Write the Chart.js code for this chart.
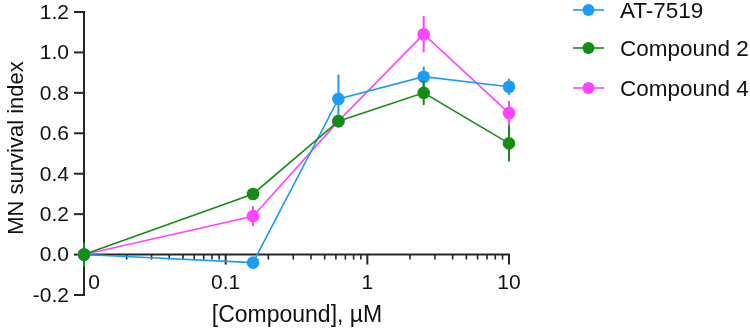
<!DOCTYPE html>
<html>
<head>
<meta charset="utf-8">
<script src="https://cdn.jsdelivr.net/npm/chart.js@4/dist/chart.umd.min.js"></script>
<style>
    html, body { margin: 0; padding: 0; background: #fff; }
    #wrap { width: 750px; height: 328px; }
</style>
</head>
<body>
<div id="wrap"><canvas id="chart" width="750" height="328"></canvas></div>
<script>
(function () {
    "use strict";

    // Data (concentration in µM, 0 = vehicle, drawn at the axis floor)
    const doses = [0, 0.156, 0.625, 2.5, 10];
    const seriesNames = ["AT-7519", "Compound 2", "Compound 4"];
    const at7519 = [0, -0.04, 0.77, 0.88, 0.83];
    const at7519Err = [0, 0.01, 0.12, 0.05, 0.04];
    const compound2 = [0, 0.3, 0.66, 0.8, 0.55];
    const compound2Err = [0.06, 0.02, 0.02, 0.06, 0.09];
    const compound4 = [0, 0.19, 0.66, 1.09, 0.7];
    const compound4Err = [0, 0.05, 0.03, 0.09, 0.06];
    const yTicks = [-0.2, 0, 0.2, 0.4, 0.6, 0.8, 1.0, 1.2];
    const xMajor = [0.1, 1, 10];
    const xTickLabels = ["0.1", "1", "10"];

    const ZERO_AT = 0.01;
    const colors = ["#1b9df5", "#138d13", "#ff44ff"];
    const FONT = "'Liberation Sans', Arial, sans-serif";
    const AXIS = "#262626";

    const toXY = (vals) => doses.map((d, i) => ({ x: d === 0 ? ZERO_AT : d, y: vals[i] }));
    const errs = [at7519Err, compound2Err, compound4Err];

    const makeSet = (i, vals, order) => ({
        label: seriesNames[i],
        data: toXY(vals),
        borderColor: colors[i],
        backgroundColor: colors[i],
        borderWidth: 1.6,
        pointRadius: 6.3,
        pointBorderWidth: 0,
        pointHoverRadius: 6.3,
        tension: 0,
        clip: false,
        order: order,
    });

    const axesPlugin = {
        id: "prismAxes",
        beforeDatasetsDraw(chart) {
            const { ctx, scales } = chart;
            const x = scales.x, y = scales.y;
            const x0 = x.getPixelForValue(ZERO_AT);
            const y0 = y.getPixelForValue(0);
            ctx.save();
            ctx.strokeStyle = AXIS;
            ctx.lineWidth = 2;
            ctx.lineCap = "butt";
            // y axis
            ctx.beginPath();
            ctx.moveTo(x0, y.getPixelForValue(1.2) - 1);
            ctx.lineTo(x0, y.getPixelForValue(-0.2) + 1);
            ctx.stroke();
            ctx.fillStyle = "#111";
            ctx.font = "21px " + FONT;
            ctx.textAlign = "right";
            ctx.textBaseline = "middle";
            yTicks.forEach((v) => {
                const py = y.getPixelForValue(v);
                ctx.beginPath();
                ctx.moveTo(x0 - 10, py);
                ctx.lineTo(x0, py);
                ctx.stroke();
                ctx.fillText(v.toFixed(1), x0 - 15, py + 1);
            });
            // x axis
            const xEnd = x.getPixelForValue(10);
            ctx.beginPath();
            ctx.moveTo(x0, y0);
            ctx.lineTo(xEnd + 1, y0);
            ctx.stroke();
            ctx.lineWidth = 1.6;
            for (let dec = 0.01; dec < 10; dec *= 10) {
                for (let k = 2; k <= 9; k++) {
                    const px = x.getPixelForValue(dec * k);
                    ctx.beginPath();
                    ctx.moveTo(px, y0);
                    ctx.lineTo(px, y0 + 5);
                    ctx.stroke();
                }
            }
            ctx.lineWidth = 2;
            ctx.textAlign = "center";
            ctx.textBaseline = "alphabetic";
            xMajor.forEach((v, i) => {
                const px = x.getPixelForValue(v);
                ctx.beginPath();
                ctx.moveTo(px, y0);
                ctx.lineTo(px, y0 + 10);
                ctx.stroke();
                ctx.fillText(xTickLabels[i], px, y0 + 34);
            });
            ctx.fillText("0", x0 + 10, y0 + 34);
            // titles
            ctx.font = "23px " + FONT;
            ctx.fillText("[Compound], µM", 297, 322);
            ctx.save();
            ctx.translate(23, 148);
            ctx.rotate(-Math.PI / 2);
            ctx.font = "22px " + FONT;
            ctx.fillText("MN survival index", 0, 0);
            ctx.restore();
            // legend
            ctx.font = "22.5px " + FONT;
            ctx.textAlign = "left";
            ctx.textBaseline = "middle";
            const legY = [10, 48, 88];
            seriesNames.forEach((name, i) => {
                ctx.strokeStyle = colors[i];
                ctx.fillStyle = colors[i];
                ctx.lineWidth = 1.6;
                ctx.beginPath();
                ctx.moveTo(573, legY[i]);
                ctx.lineTo(604, legY[i]);
                ctx.stroke();
                ctx.beginPath();
                ctx.arc(588.5, legY[i], 6, 0, Math.PI * 2);
                ctx.fill();
                ctx.fillStyle = "#111";
                ctx.fillText(name, 620, legY[i] + 1.5);
            });
            ctx.restore();
        },
        beforeDatasetDraw(chart, args) {
            const { ctx, scales } = chart;
            const i = args.index;
            const ds = chart.data.datasets[i];
            ctx.save();
            ctx.strokeStyle = colors[i];
            ctx.lineWidth = 2;
            ds.data.forEach((p, j) => {
                const e = errs[i][j];
                if (!e) return;
                const px = scales.x.getPixelForValue(p.x);
                ctx.beginPath();
                ctx.moveTo(px, scales.y.getPixelForValue(p.y + e));
                ctx.lineTo(px, scales.y.getPixelForValue(p.y - e));
                ctx.stroke();
            });
            ctx.restore();
        },
    };

    const ctx = document.getElementById("chart").getContext("2d");
    new Chart(ctx, {
        type: "line",
        data: {
            datasets: [
                makeSet(0, at7519, 1),
                makeSet(1, compound2, 0),
                makeSet(2, compound4, 2),
            ],
        },
        options: {
            responsive: false,
            animation: false,
            layout: { padding: { left: 84, right: 241, top: 12, bottom: 33 } },
            plugins: {
                legend: { display: false },
                tooltip: { enabled: false },
            },
            scales: {
                x: { type: "logarithmic", min: ZERO_AT, max: 10, display: false },
                y: { type: "linear", min: -0.2, max: 1.2, display: false },
            },
        },
        plugins: [axesPlugin],
    });
})();
</script>
</body>
</html>
